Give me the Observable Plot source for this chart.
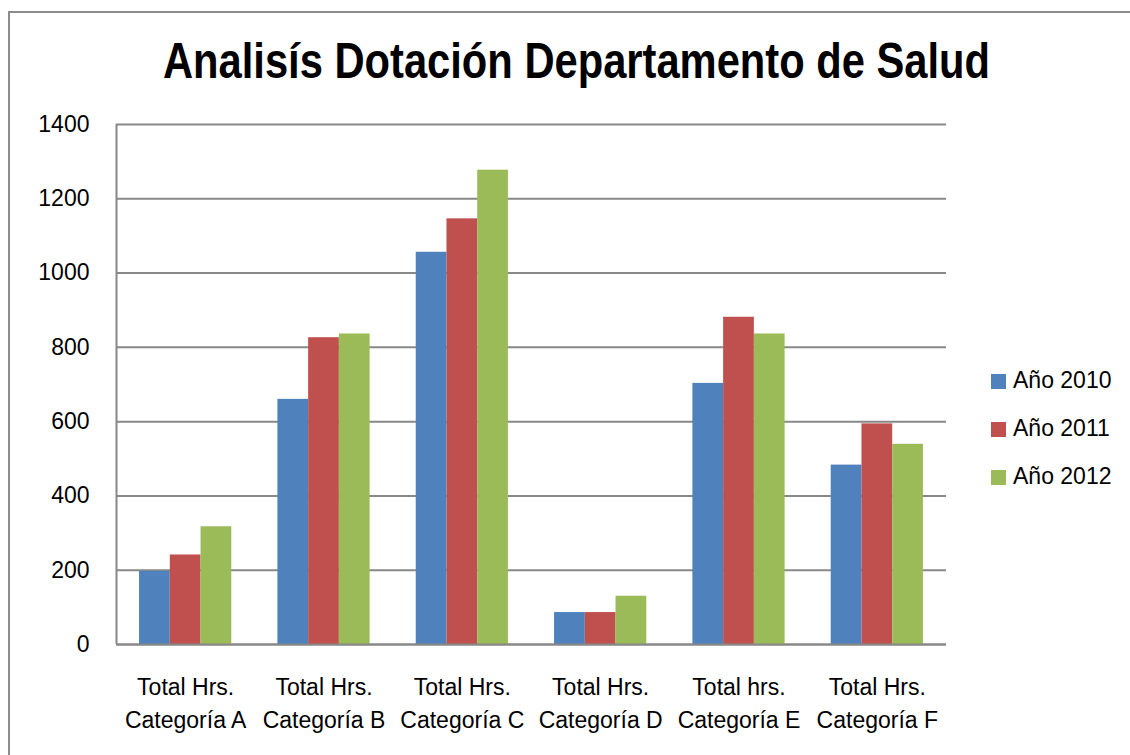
<!DOCTYPE html>
<html>
<head>
<meta charset="utf-8">
<script src="https://cdn.jsdelivr.net/npm/d3@7"></script>
<script src="https://cdn.jsdelivr.net/npm/@observablehq/plot@0.6"></script>
<style>
  html, body { margin: 0; padding: 0; background: #fff; }
  #wrap { position: relative; width: 1130px; height: 755px; overflow: hidden; background: #fff;
          font-family: "Liberation Sans", Arial, sans-serif; color: #000; }
  #border { position: absolute; left: 8px; top: 11px; width: 1140px; height: 770px;
            border: 2px solid #8c8c8c; box-sizing: border-box; }
  #title { position: absolute; left: 163px; top: 0px; white-space: nowrap; transform-origin: 0 0;
           font-family: "Liberation Sans Narrow", "Liberation Sans", Arial, sans-serif;
           font-weight: bold; font-size: 50px; line-height: 50px; }
  #chart { position: absolute; left: 0; top: 0; }
  #legend { position: absolute; left: 991px; top: 0; }
  .lg { position: absolute; left: 0; white-space: nowrap; font-size: 23px; line-height: 23px; }
  .sw { display: inline-block; width: 15px; height: 15px; vertical-align: middle; margin-right: 7px; }
</style>
</head>
<body>
<div id="wrap">
  <div id="border"></div>
  <div id="chart"></div>
  <div id="title"><span id="titleText"></span></div>
  <div id="legend"></div>
</div>
<script>
const titleText = "Analisís Dotación Departamento de Salud";
const categories = [
  "Total Hrs.\nCategoría A",
  "Total Hrs.\nCategoría B",
  "Total Hrs.\nCategoría C",
  "Total Hrs.\nCategoría D",
  "Total hrs.\nCategoría E",
  "Total Hrs.\nCategoría F"
];
const series = ["Año 2010", "Año 2011", "Año 2012"];
const values2010 = [197, 660, 1056, 86, 703, 483];
const values2011 = [241, 826, 1146, 86, 881, 594];
const values2012 = [317, 836, 1277, 130, 836, 539];
const yTicks = [0, 200, 400, 600, 800, 1000, 1200, 1400];
const colors = ["#4F81BD", "#C0504D", "#9BBB59"];

const seriesValues = [values2010, values2011, values2012];
const data = [];
seriesValues.forEach((vals, s) => vals.forEach((v, i) => data.push({ i, s, series: series[s], value: v })));
const catData = categories.map((label, i) => ({ i, label }));

const groupWidth = 2 / 3;           // Excel gap width 150%
const barW = groupWidth / series.length;

const plot = Plot.plot({
  width: 1130,
  height: 755,
  marginLeft: 116,
  marginRight: 184,
  marginTop: 124,
  marginBottom: 111,
  style: { fontFamily: '"Liberation Sans", Arial, sans-serif', fontSize: "23px", color: "#000", background: "transparent", overflow: "visible" },
  x: { domain: [-0.5, categories.length - 0.5], axis: null },
  y: { domain: [0, 1400], ticks: yTicks, tickSize: 0, tickPadding: 27, tickFormat: d => String(d), label: null },
  color: { domain: series, range: colors },
  marks: [
    Plot.ruleY(yTicks, { stroke: "#888888", strokeWidth: 2 }),
    Plot.ruleX([-0.5], { stroke: "#888888", strokeWidth: 2 }),
    Plot.rect(data, {
      x1: d => d.i - groupWidth / 2 + d.s * barW,
      x2: d => d.i - groupWidth / 2 + (d.s + 1) * barW,
      y1: 0,
      y2: "value",
      fill: "series"
    }),
    Plot.ruleY([0], { stroke: "#888888", strokeWidth: 2 }),
    Plot.text(catData, {
      x: "i",
      text: "label",
      frameAnchor: "bottom",
      lineAnchor: "top",
      dy: 27,
      lineHeight: 33 / 23,
      fontSize: 23,
      fill: "#000"
    })
  ]
});
document.getElementById("chart").appendChild(plot);

// Title (condensed to match the reference width)
const tspan = document.getElementById("titleText");
tspan.textContent = titleText;
const tw = tspan.getBoundingClientRect().width;
const titleDiv = document.getElementById("title");
titleDiv.style.transform = `scaleX(${827 / tw})`;
// baseline at ~78px: Liberation ascent .905, descent .212
titleDiv.style.top = (78 - 50 * 0.905 + (50 * 1.117 - 50) / 2) + "px";

// Legend
const legend = document.getElementById("legend");
series.forEach((name, k) => {
  const row = document.createElement("div");
  row.className = "lg";
  row.style.top = (369 + k * 48) + "px";
  const sw = document.createElement("span");
  sw.className = "sw";
  sw.style.background = colors[k];
  row.appendChild(sw);
  row.appendChild(document.createTextNode(name));
  legend.appendChild(row);
});
</script>
</body>
</html>
